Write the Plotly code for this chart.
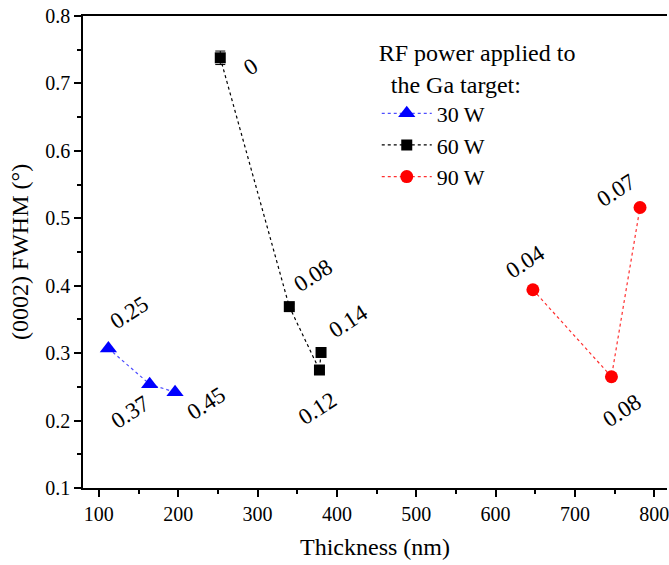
import plotly.graph_objects as go

# ---- data ----
x30 = [112, 164, 196]
y30 = [0.307, 0.254, 0.242]
lab30 = ["0.25", "0.37", "0.45"]

x60 = [253, 340, 378, 380]
y60 = [0.738, 0.369, 0.275, 0.301]
err60 = [0.01, 0.004, 0.004, 0.004]
lab60 = ["0", "0.08", "0.12", "0.14"]

x90 = [647, 746, 782]
y90 = [0.394, 0.265, 0.516]
lab90 = ["0.04", "0.08", "0.07"]

# label offsets (px) from each point
off30 = [(21, 36), (-20, -28), (31, -11)]
off60 = [(31, -9), (24, 31), (-2, -38), (27, 31)]
off90 = [(-7, 28), (11, -34), (-24, 17)]

FONT = "Times New Roman, Liberation Serif, serif"

fig = go.Figure()
fig.add_trace(go.Scatter(
    x=x30, y=y30, mode="lines+markers", name="30 W",
    line=dict(color="#4f4fff", dash="dot", width=1.2),
    marker=dict(symbol="triangle-up", size=15, color="#0000ff"),
))
fig.add_trace(go.Scatter(
    x=x60, y=y60, mode="lines+markers", name="60 W",
    line=dict(color="black", dash="dot", width=1.2),
    marker=dict(symbol="square", size=11, color="black"),
    error_y=dict(type="data", array=err60, color="black", thickness=1, width=5),
))
fig.add_trace(go.Scatter(
    x=x90, y=y90, mode="lines+markers", name="90 W",
    line=dict(color="#ff3030", dash="dot", width=1.2),
    marker=dict(symbol="circle", size=13, color="#ff0000"),
))

annots = []
for xs, ys, labs, offs in [(x30, y30, lab30, off30), (x60, y60, lab60, off60), (x90, y90, lab90, off90)]:
    for xv, yv, t, (dx, dy) in zip(xs, ys, labs, offs):
        annots.append(dict(x=xv, y=yv, xref="x", yref="y", text=t, showarrow=False,
                           xshift=dx, yshift=dy, textangle=-33,
                           font=dict(family=FONT, size=23, color="black")))

fig.update_layout(
    width=669, height=565,
    margin=dict(l=83, r=0, t=16, b=77),
    paper_bgcolor="white", plot_bgcolor="white",
    font=dict(family=FONT, color="black"),
    showlegend=True,
    legend=dict(
        x=0.503, y=0.97, xanchor="left", yanchor="top",
        title=dict(text="RF power applied to<br>\u00a0\u00a0the Ga target:", font=dict(family=FONT, size=24, color="black"), side="top"),
        font=dict(family=FONT, size=22, color="black"),
        bgcolor="rgba(0,0,0,0)", itemwidth=50, tracegroupgap=0,
    ),
    annotations=annots,
    xaxis=dict(
        range=[80, 816], showgrid=False, zeroline=False,
        showline=True, linecolor="black", linewidth=1.5, mirror=True,
        ticks="outside", ticklen=7, tickwidth=1.5, tickcolor="black",
        dtick=100, tick0=0, ticklabeloverflow="allow",
        minor=dict(ticks="outside", ticklen=4, dtick=50, tick0=0, tickcolor="black", tickwidth=1.5, showgrid=False),
        tickfont=dict(family=FONT, size=20, color="black"),
        title=dict(text="Thickness (nm)", font=dict(family=FONT, size=24, color="black"), standoff=14),
    ),
    yaxis=dict(
        range=[0.1, 0.8], showgrid=False, zeroline=False,
        showline=True, linecolor="black", linewidth=1.5, mirror=False,
        ticks="outside", ticklen=7, tickwidth=1.5, tickcolor="black",
        dtick=0.1, tick0=0, tickformat=".1f",
        minor=dict(ticks="outside", ticklen=4, dtick=0.05, tick0=0, tickcolor="black", tickwidth=1.5, showgrid=False),
        tickfont=dict(family=FONT, size=20, color="black"),
        title=dict(text="(0002) FWHM (°)", font=dict(family=FONT, size=24, color="black"), standoff=10),
    ),
)

fig.write_html("out.html")
